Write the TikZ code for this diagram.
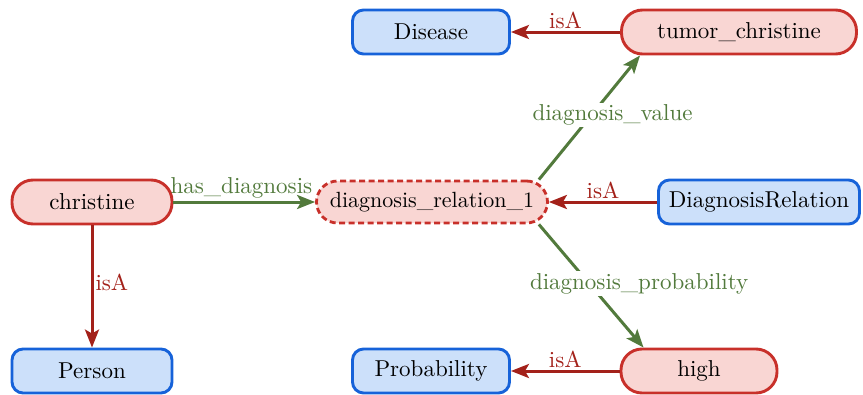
\documentclass[tikz,border=0pt]{standalone}
\usetikzlibrary{arrows.meta}
\definecolor{redfill}{HTML}{F9D6D3}
\definecolor{redline}{HTML}{C8302A}
\definecolor{bluefill}{HTML}{CCE0FA}
\definecolor{blueline}{HTML}{1662D9}
\definecolor{greenedge}{HTML}{527A3C}
\definecolor{redge}{HTML}{A3211A}
\newcommand\bigtxt[1]{\scalebox{2.3}{#1}}
\tikzset{
  base/.style={draw, line width=2.9pt, inner sep=0pt, minimum height=44pt, align=center},
  inst/.style={base, fill=redfill, draw=redline, rounded corners=21pt},
  cls/.style={base, fill=bluefill, draw=blueline, rounded corners=11pt},
  rel/.style={inst, dash pattern=on 6pt off 3.5pt, line width=2.8pt},
  isa/.style={draw=redge, line width=3pt, -{Stealth[length=18pt,width=14pt,inset=4pt]}},
  prop/.style={draw=greenedge, line width=3pt, -{Stealth[length=18pt,width=14pt,inset=4pt]}},
  isalab/.style={text=redge, inner sep=2pt},
  proplab/.style={text=greenedge, inner sep=2pt},
}
\begin{document}
\begin{tikzpicture}[x=1pt,y=-1pt]
\useasboundingbox (0,0) rectangle (863,394);
\node[inst, minimum width=160pt] (christine) at (92,202) {\bigtxt{christine}};
\node[cls, minimum width=160pt] (person) at (92,371) {\bigtxt{Person}};
\node[rel, minimum width=231pt, minimum height=42pt] (drel) at (432,202) {\scalebox{2.2}{diagnosis\_relation\_1}};
\node[cls, minimum width=201pt] (drclass) at (759,202) {\bigtxt{DiagnosisRelation}};
\node[cls, minimum width=157pt] (disease) at (431,32) {\bigtxt{Disease}};
\node[inst, minimum width=235pt] (tumor) at (739,32) {\bigtxt{tumor\_christine}};
\node[cls, minimum width=157pt] (prob) at (431,371) {\bigtxt{Probability}};
\node[inst, minimum width=156pt] (high) at (699,371) {\bigtxt{high}};

\draw[prop] (christine) -- node[proplab, above, pos=0.48] {\bigtxt{has\_diagnosis}} (drel);
\draw[isa] (christine) -- node[isalab, right, pos=0.47] {\bigtxt{isA}} (person);
\draw[isa] (tumor) -- node[isalab, above] {\bigtxt{isA}} (disease);
\draw[isa] (drclass) -- node[isalab, above] {\bigtxt{isA}} (drel);
\draw[isa] (high) -- node[isalab, above] {\bigtxt{isA}} (prob);
\draw[prop] ([xshift=-10pt]drel.north east) -- node[proplab, fill=white, pos=0.52, xshift=21pt] {\bigtxt{diagnosis\_value}} ([xshift=20pt]tumor.south west);
\draw[prop] ([xshift=-10pt]drel.south east) -- node[proplab, fill=white, pos=0.48, xshift=50pt] {\bigtxt{diagnosis\_probability}} ([xshift=24pt]high.north west);
\end{tikzpicture}
\end{document}
